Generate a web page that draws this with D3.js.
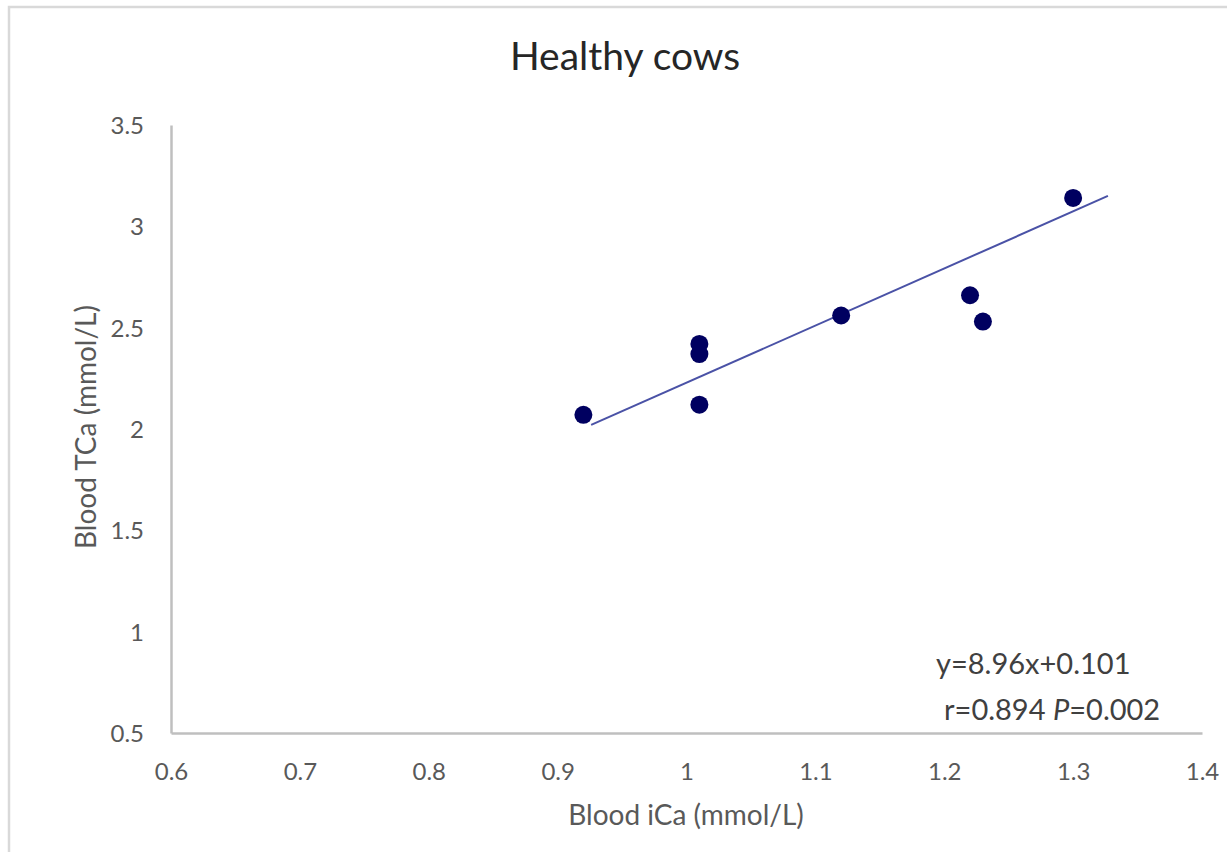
<!DOCTYPE html>
<html><head><meta charset="utf-8">
<script src="https://cdnjs.cloudflare.com/ajax/libs/d3/7.8.5/d3.min.js"></script>
<style>
html,body{margin:0;padding:0;background:#fff;}
svg{display:block;}
text{font-family:Lato,"Open Sans",sans-serif;fill:#404040;}
</style></head>
<body>
<script>
const ica = [0.92, 1.01, 1.01, 1.01, 1.12, 1.22, 1.23, 1.30];
const tca = [2.07, 2.12, 2.37, 2.42, 2.56, 2.66, 2.53, 3.14];
const trendX = [0.926, 1.327];
const trendY = [2.02, 3.15];
const xTicks = [0.6, 0.7, 0.8, 0.9, 1, 1.1, 1.2, 1.3, 1.4];
const yTicks = [0.5, 1, 1.5, 2, 2.5, 3, 3.5];
const title = "Healthy cows";
const xTitle = "Blood iCa (mmol/L)";
const yTitle = "Blood TCa (mmol/L)";

const W = 1227, H = 852;
const svg = d3.select("body").append("svg").attr("width", W).attr("height", H);

// chart border
svg.append("path").attr("d", `M9,${H+5} L9,7 L${W+5},7`)
  .attr("fill","none").attr("stroke","#d9d9d9").attr("stroke-width",2.5);

const x = d3.scaleLinear().domain([0.6, 1.4]).range([171, 1202]);
const y = d3.scaleLinear().domain([0.5, 3.5]).range([733, 125]);

// title
svg.append("text").attr("x", 625).attr("y", 70).attr("text-anchor","middle")
  .style("font-size","39px").style("fill","#262626").text(title);

// axes
const xAxis = d3.axisBottom(x).tickValues(xTicks).tickSize(0).tickPadding(0).tickFormat(d3.format("~g"));
const gx = svg.append("g").attr("transform","translate(0,733)").call(xAxis);
gx.attr("font-size", null).attr("font-family", null);
gx.select(".domain").attr("stroke","#bfbfbf").attr("stroke-width",2.5);
gx.selectAll("text").attr("dy",null).attr("y",47).style("font-size","24px").style("fill","#595959");

const yAxis = d3.axisLeft(y).tickValues(yTicks).tickSize(0).tickPadding(0).tickFormat(d3.format("~g"));
const gy = svg.append("g").attr("transform","translate(171,0)").call(yAxis);
gy.attr("font-size", null).attr("font-family", null);
gy.select(".domain").attr("stroke","#bfbfbf").attr("stroke-width",2.5);
gy.selectAll("text").attr("x",-27).attr("dy","0.35em").style("font-size","24px").style("fill","#595959");

// axis titles
svg.append("text").attr("x", 686).attr("y", 825).attr("text-anchor","middle")
  .style("font-size","28px").style("fill","#595959").text(xTitle);
svg.append("text").attr("transform","translate(96,427) rotate(-90)").attr("text-anchor","middle")
  .style("font-size","28px").style("fill","#595959").text(yTitle);

// trendline
svg.append("line")
  .attr("x1", x(trendX[0])).attr("y1", y(trendY[0]))
  .attr("x2", x(trendX[1])).attr("y2", y(trendY[1]))
  .attr("stroke","#4a52a6").attr("stroke-width",2);

// points
svg.selectAll("circle.pt").data(ica.map((v,i)=>[v,tca[i]])).enter().append("circle")
  .attr("class","pt").attr("cx",d=>x(d[0])).attr("cy",d=>y(d[1])).attr("r",9)
  .attr("fill","#000060");

// equation
svg.append("text").attr("x", 936).attr("y", 674).style("font-size","29px").style("fill","#404040")
  .text("y=8.96x+0.101");
const t2 = svg.append("text").attr("x", 944).attr("y", 720).style("font-size","29px").style("fill","#404040");
t2.append("tspan").text("r=0.894 ");
t2.append("tspan").style("font-style","italic").text("P");
t2.append("tspan").text("=0.002");
</script>
</body></html>
